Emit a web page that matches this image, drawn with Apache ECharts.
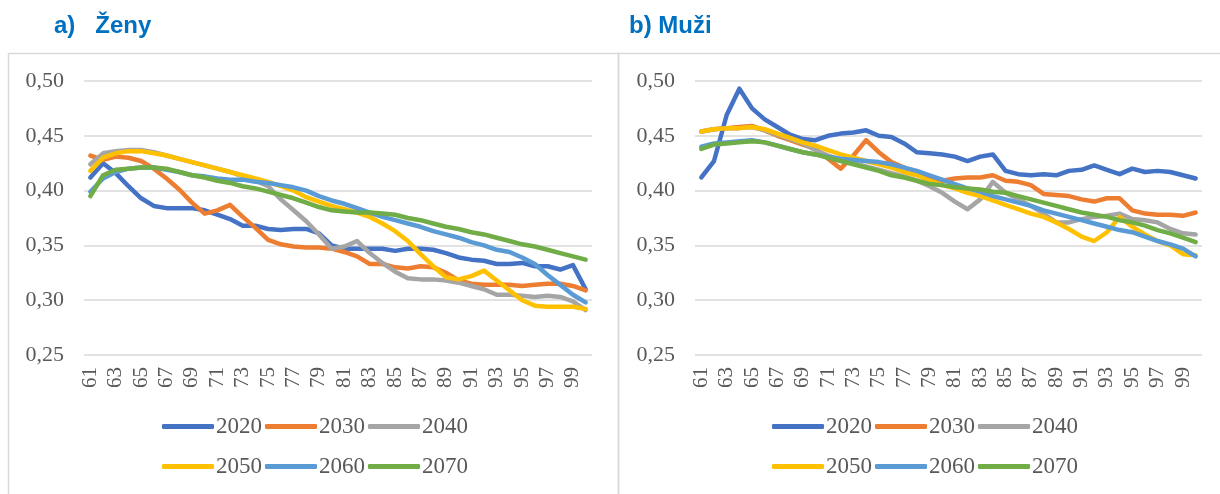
<!DOCTYPE html>
<html>
<head>
<meta charset="utf-8">
<title>Ženy / Muži</title>
<script src="https://cdn.jsdelivr.net/npm/echarts/dist/echarts.min.js"></script>
<style>
  body { margin: 0; background: #fff; }
  #chart { width: 1220px; height: 494px; }
</style>
</head>
<body>
<div id="chart"></div>
<script>
// vek 61..100
const ages = ['61','62','63','64','65','66','67','68','69','70','71','72','73','74','75','76','77','78','79','80',
  '81','82','83','84','85','86','87','88','89','90','91','92','93','94','95','96','97','98','99','100'];
const years = ['2020', '2030', '2040', '2050', '2060', '2070'];
const yTicks = [0.25, 0.30, 0.35, 0.40, 0.45, 0.50];

// a) Zeny
const zeny2020 = [0.412,0.425,0.416,0.404,0.393,0.386,0.384,0.384,0.384,0.382,0.378,0.374,0.368,0.368,0.365,0.364,0.365,0.365,0.361,0.350,
  0.347,0.347,0.347,0.347,0.345,0.347,0.347,0.346,0.343,0.339,0.337,0.336,0.333,0.333,0.334,0.331,0.331,0.328,0.332,0.310];
const zeny2030 = [0.432,0.428,0.431,0.430,0.427,0.420,0.411,0.401,0.389,0.379,0.382,0.387,0.376,0.366,0.355,0.351,0.349,0.348,0.348,0.347,
  0.344,0.340,0.333,0.333,0.330,0.329,0.331,0.330,0.325,0.318,0.315,0.314,0.314,0.314,0.313,0.314,0.315,0.315,0.313,0.309];
const zeny2040 = [0.424,0.434,0.436,0.437,0.437,0.435,0.432,0.429,0.426,0.423,0.420,0.417,0.413,0.409,0.404,0.392,0.382,0.372,0.360,0.347,
  0.349,0.354,0.343,0.334,0.326,0.320,0.319,0.319,0.318,0.316,0.313,0.310,0.305,0.305,0.304,0.303,0.304,0.303,0.299,0.291];
const zeny2050 = [0.418,0.430,0.434,0.436,0.436,0.434,0.432,0.429,0.426,0.423,0.420,0.417,0.414,0.411,0.408,0.404,0.400,0.394,0.390,0.386,
  0.383,0.380,0.376,0.370,0.363,0.354,0.342,0.331,0.321,0.319,0.322,0.327,0.318,0.309,0.300,0.295,0.294,0.294,0.294,0.292];
const zeny2060 = [0.399,0.411,0.417,0.420,0.421,0.421,0.419,0.417,0.414,0.413,0.411,0.410,0.410,0.408,0.407,0.405,0.403,0.400,0.395,0.391,
  0.388,0.384,0.380,0.376,0.373,0.370,0.367,0.363,0.360,0.357,0.353,0.350,0.346,0.344,0.339,0.333,0.323,0.314,0.305,0.298];
const zeny2070 = [0.395,0.414,0.419,0.420,0.421,0.421,0.420,0.417,0.414,0.412,0.409,0.407,0.404,0.402,0.399,0.396,0.393,0.389,0.385,0.382,
  0.381,0.380,0.380,0.379,0.378,0.375,0.373,0.370,0.367,0.365,0.362,0.360,0.357,0.354,0.351,0.349,0.346,0.343,0.340,0.337];

// b) Muzi
const muzi2020 = [0.412,0.427,0.469,0.493,0.475,0.465,0.458,0.451,0.447,0.446,0.450,0.452,0.453,0.455,0.450,0.449,0.443,0.435,0.434,0.433,
  0.431,0.427,0.431,0.433,0.418,0.415,0.414,0.415,0.414,0.418,0.419,0.423,0.419,0.415,0.420,0.417,0.418,0.417,0.414,0.411];
const muzi2030 = [0.454,0.456,0.457,0.458,0.459,0.455,0.450,0.446,0.442,0.438,0.429,0.420,0.432,0.446,0.435,0.426,0.421,0.415,0.411,0.409,
  0.411,0.412,0.412,0.414,0.409,0.408,0.405,0.397,0.396,0.395,0.392,0.390,0.393,0.393,0.382,0.379,0.378,0.378,0.377,0.380];
const muzi2040 = [0.454,0.456,0.457,0.457,0.458,0.455,0.451,0.447,0.443,0.437,0.432,0.428,0.425,0.422,0.419,0.416,0.413,0.409,0.404,0.398,
  0.390,0.383,0.392,0.408,0.398,0.392,0.386,0.379,0.371,0.371,0.374,0.376,0.377,0.379,0.374,0.373,0.371,0.365,0.361,0.360];
const muzi2050 = [0.454,0.456,0.457,0.457,0.458,0.456,0.452,0.448,0.444,0.441,0.437,0.433,0.430,0.427,0.424,0.421,0.417,0.414,0.409,0.405,
  0.402,0.398,0.395,0.391,0.387,0.383,0.379,0.376,0.371,0.365,0.358,0.354,0.362,0.376,0.367,0.360,0.354,0.350,0.342,0.341];
const muzi2060 = [0.440,0.443,0.444,0.445,0.446,0.444,0.441,0.438,0.435,0.433,0.431,0.429,0.428,0.427,0.426,0.424,0.421,0.418,0.414,0.410,
  0.406,0.402,0.399,0.395,0.392,0.389,0.386,0.382,0.379,0.376,0.373,0.370,0.367,0.364,0.362,0.358,0.354,0.351,0.347,0.340];
const muzi2070 = [0.438,0.442,0.443,0.444,0.445,0.444,0.441,0.438,0.435,0.433,0.430,0.427,0.424,0.421,0.418,0.414,0.412,0.409,0.406,0.405,
  0.403,0.402,0.401,0.399,0.398,0.395,0.392,0.389,0.386,0.383,0.380,0.378,0.376,0.373,0.371,0.368,0.364,0.361,0.357,0.353];

const zenyData = [zeny2020, zeny2030, zeny2040, zeny2050, zeny2060, zeny2070];
const muziData = [muzi2020, muzi2030, muzi2040, muzi2050, muzi2060, muzi2070];
const colors = ['#4472C4', '#ED7D31', '#A5A5A5', '#FFC000', '#5B9BD5', '#70AD47'];

const serif = '"Liberation Serif", "Times New Roman", serif';
const sans = '"Liberation Sans", Arial, sans-serif';
const gridColor = '#D9D9D9';
const textColor = '#595959';

function xAxisFor(idx) {
  return {
    type: 'category',
    gridIndex: idx,
    data: ages,
    boundaryGap: true,
    axisLine: { show: false },
    axisTick: { show: false },
    axisLabel: {
      interval: 1,
      rotate: 90,
      margin: 12,
      fontFamily: serif,
      fontSize: 21,
      color: textColor
    }
  };
}

function yAxisFor(idx) {
  return {
    type: 'value',
    gridIndex: idx,
    min: yTicks[0],
    max: yTicks[yTicks.length - 1],
    interval: 0.05,
    axisLine: { show: false },
    axisTick: { show: false },
    splitLine: { lineStyle: { color: gridColor, width: 1.5 } },
    axisLabel: {
      margin: 20,
      fontFamily: serif,
      fontSize: 22,
      color: textColor,
      formatter: function (v) { return v.toFixed(2).replace('.', ','); }
    }
  };
}

let series = [];
[zenyData, muziData].forEach(function (panel, p) {
  panel.forEach(function (vals, i) {
    series.push({
      name: years[i],
      type: 'line',
      xAxisIndex: p,
      yAxisIndex: p,
      data: vals,
      symbol: 'none',
      color: colors[i],
      lineStyle: { width: 4.5, cap: 'round', join: 'round' },
      emphasis: { disabled: true }
    });
  });
});

function legendRow(names, left, top) {
  return {
    data: names,
    left: left,
    top: top,
    icon: 'roundRect',
    itemWidth: 52,
    itemHeight: 5,
    itemGap: 3,
    padding: 0,
    textStyle: { fontFamily: serif, fontSize: 23, color: textColor, padding: [0, 0, 0, -3] }
  };
}

const chart = echarts.init(document.getElementById('chart'));
chart.setOption({
  backgroundColor: '#fff',
  animation: false,
  title: [
    { text: 'a)   Ženy', left: 54, top: 14, padding: 0,
      textStyle: { color: '#0070C0', fontWeight: 'bold', fontSize: 24, fontFamily: sans } },
    { text: 'b) Muži', left: 629, top: 14, padding: 0,
      textStyle: { color: '#0070C0', fontWeight: 'bold', fontSize: 24, fontFamily: sans } }
  ],
  graphic: [
    { type: 'rect', shape: { x: 8.5, y: 53.5, width: 610, height: 460 }, style: { fill: 'none', stroke: gridColor, lineWidth: 1.5 }, silent: true },
    { type: 'rect', shape: { x: 618.5, y: 53.5, width: 610, height: 460 }, style: { fill: 'none', stroke: gridColor, lineWidth: 1.5 }, silent: true }
  ],
  legend: [
    legendRow(years.slice(0, 3), 162, 415),
    legendRow(years.slice(3), 162, 455),
    legendRow(years.slice(0, 3), 772, 415),
    legendRow(years.slice(3), 772, 455)
  ],
  grid: [
    { left: 84, top: 81, width: 508, height: 274 },
    { left: 695, top: 81, width: 507, height: 274 }
  ],
  xAxis: [xAxisFor(0), xAxisFor(1)],
  yAxis: [yAxisFor(0), yAxisFor(1)],
  series: series
});
</script>
</body>
</html>
